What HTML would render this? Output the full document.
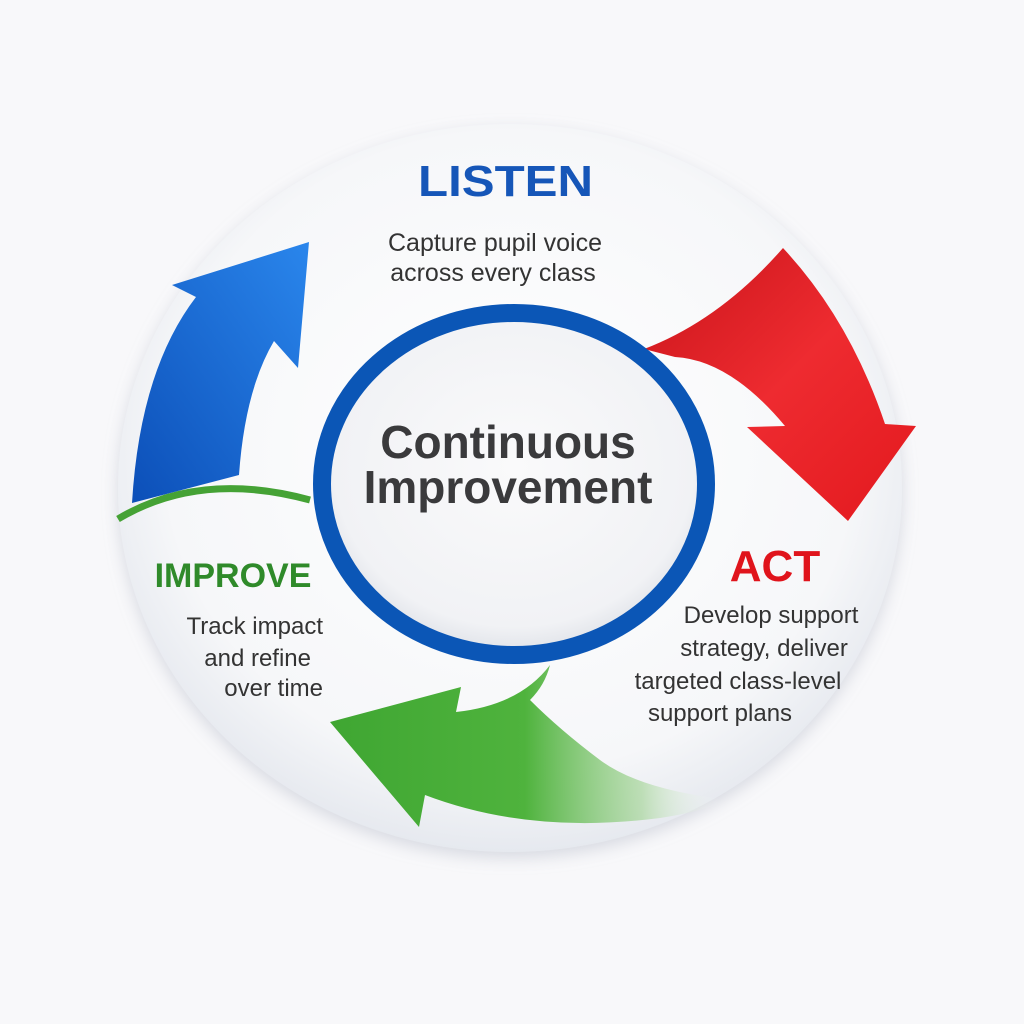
<!DOCTYPE html>
<html><head><meta charset="utf-8"><style>
html,body{margin:0;padding:0;background:#f8f8fa;}
svg{display:block}
text{font-family:"Liberation Sans",sans-serif;}
</style></head><body>
<svg width="1024" height="1024" viewBox="0 0 1024 1024" xmlns="http://www.w3.org/2000/svg">
<defs>
<radialGradient id="disc" cx="50%" cy="45%" r="55%">
<stop offset="0" stop-color="#ffffff"/><stop offset="0.8" stop-color="#f6f7f9"/><stop offset="1" stop-color="#e6e9ef"/>
</radialGradient>
<radialGradient id="inner" cx="50%" cy="45%" r="55%">
<stop offset="0" stop-color="#fafafb"/><stop offset="0.85" stop-color="#f1f2f5"/><stop offset="1" stop-color="#dfe2e8"/>
</radialGradient>
<linearGradient id="blue" x1="0" y1="1" x2="1" y2="0">
<stop offset="0" stop-color="#0c4fb8"/><stop offset="1" stop-color="#2a86ec"/>
</linearGradient>
<linearGradient id="red" x1="0" y1="0" x2="1" y2="1">
<stop offset="0" stop-color="#c8141a"/><stop offset="0.5" stop-color="#ee2b30"/><stop offset="1" stop-color="#e3191e"/>
</linearGradient>
<linearGradient id="green" x1="330" y1="0" x2="720" y2="0" gradientUnits="userSpaceOnUse">
<stop offset="0" stop-color="#3fa632"/><stop offset="0.5" stop-color="#4fb33d"/><stop offset="0.8" stop-color="#a8d69c" stop-opacity="0.7"/><stop offset="1" stop-color="#ffffff" stop-opacity="0"/>
</linearGradient>
<filter id="sh" x="-10%" y="-10%" width="120%" height="120%"><feDropShadow dx="0" dy="6" stdDeviation="8" flood-color="#9aa3b5" flood-opacity="0.35"/></filter>
</defs>
<rect width="1024" height="1024" fill="#f8f8fa"/>
<ellipse cx="510" cy="488" rx="392" ry="364" fill="url(#disc)" filter="url(#sh)"/>
<path d="M118 519 Q200 470 310 500" fill="none" stroke="#45a235" stroke-width="7"/>
<path d="M132 503 Q140 370 196 297 L172 285 L309 242 L298 368 L274 341 Q245 390 239 475 Z" fill="url(#blue)"/>
<path d="M644 349 Q720 320 783 248 Q850 320 885 424 L916 426 L848 521 L747 427 L785 426 Q730 360 675 357 Z" fill="url(#red)"/>
<path d="M550 665 Q520 705 456 712 L461 687 L330 722 L419 827 L425 795 Q530 835 660 818 Q700 812 730 800 Q640 790 600 760 Q560 730 530 700 Q545 685 550 665 Z" fill="url(#green)"/>
<ellipse cx="514" cy="484" rx="192" ry="171" fill="url(#inner)" stroke="#0b56b6" stroke-width="18"/>
<text x="418" y="196" textLength="175" lengthAdjust="spacingAndGlyphs" font-size="44" font-weight="bold" fill="#1656b8">LISTEN</text>
<text x="495" y="251" text-anchor="middle" font-size="25" fill="#333">Capture pupil voice</text>
<text x="493" y="281" text-anchor="middle" font-size="25" fill="#333">across every class</text>
<text x="508" y="458" text-anchor="middle" font-size="46" font-weight="bold" fill="#3a3a3c">Continuous</text>
<text x="508" y="503" text-anchor="middle" font-size="46" font-weight="bold" fill="#3a3a3c">Improvement</text>
<text x="233" y="587" text-anchor="middle" font-size="34" font-weight="bold" fill="#2f8a2a">IMPROVE</text>
<text x="323" y="634" text-anchor="end" font-size="24" fill="#333">Track impact</text>
<text x="311" y="666" text-anchor="end" font-size="24" fill="#333">and refine</text>
<text x="323" y="696" text-anchor="end" font-size="24" fill="#333">over time</text>
<text x="775" y="581" text-anchor="middle" font-size="44" font-weight="bold" fill="#e0141c">ACT</text>
<text x="771" y="623" text-anchor="middle" font-size="24" fill="#333">Develop support</text>
<text x="764" y="656" text-anchor="middle" font-size="24" fill="#333">strategy, deliver</text>
<text x="738" y="689" text-anchor="middle" font-size="24" fill="#333">targeted class-level</text>
<text x="720" y="721" text-anchor="middle" font-size="24" fill="#333">support plans</text>
</svg>
</body></html>
